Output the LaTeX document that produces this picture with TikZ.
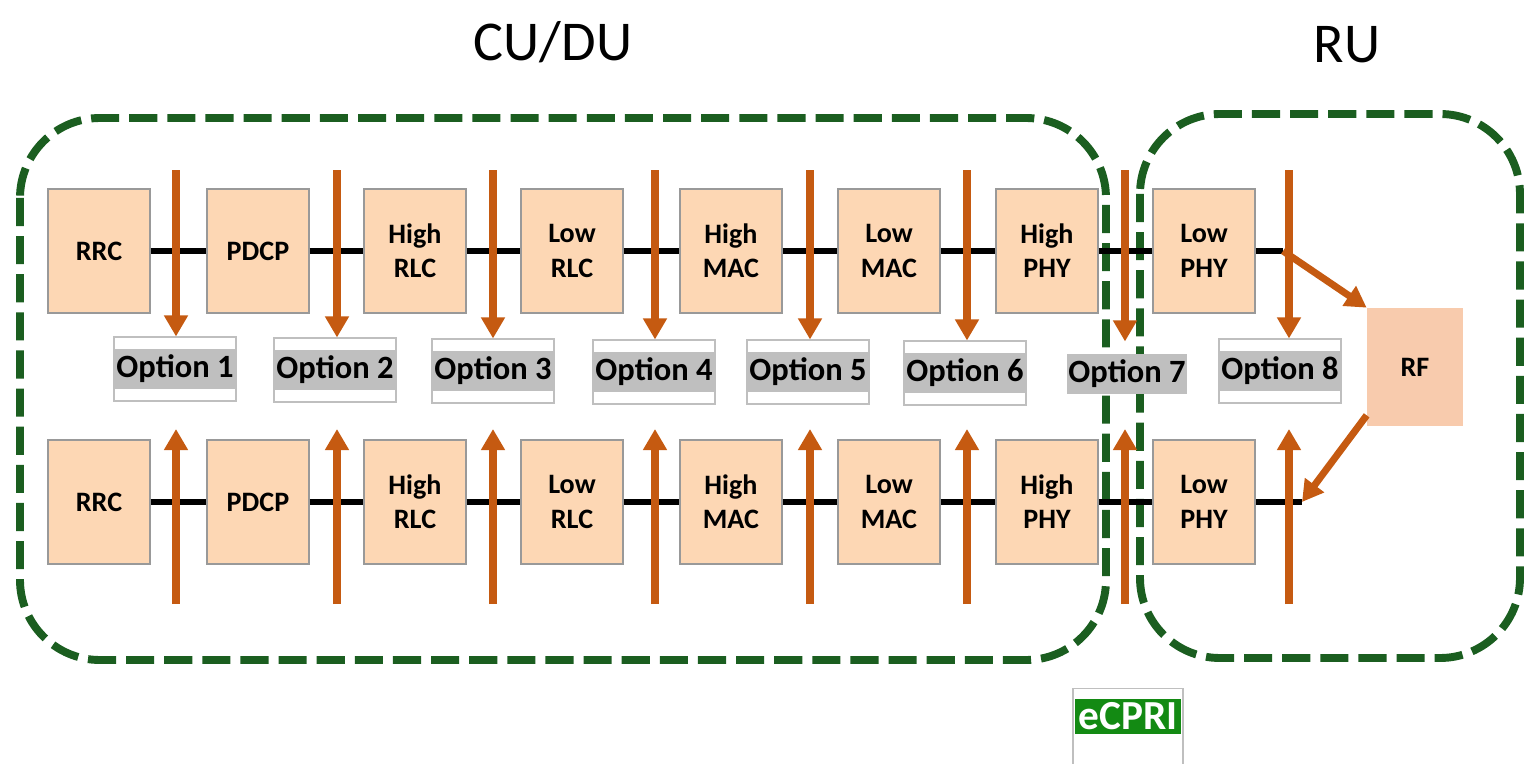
\documentclass[tikz,border=0pt]{standalone}
\usepackage{fontspec}
\setmainfont{Carlito}
\usepackage{xcolor}
\usetikzlibrary{arrows.meta}
\definecolor{blockfill}{HTML}{FDD7B4}
\definecolor{rffill}{HTML}{F8CBAD}
\definecolor{splitorange}{HTML}{C55A11}
\definecolor{zonegreen}{HTML}{1B5E20}
\definecolor{optgray}{HTML}{BFBFBF}
\definecolor{ecprigreen}{HTML}{138A13}
\tikzset{
  layer/.style={draw=black!40, line width=0.6pt, fill=blockfill, minimum width=2.04cm, minimum height=2.48cm, align=center, inner sep=0pt, font=\fontsize{16}{19.5}\selectfont\bfseries},
  rfbox/.style={fill=rffill, minimum width=1.92cm, minimum height=2.36cm, inner sep=0pt, font=\fontsize{16}{19.5}\selectfont\bfseries},
  bus/.style={line width=3.2pt, black},
  split/.style={line width=4pt, splitorange, -{Triangle[width=13pt, length=12pt]}},
  optframe/.style={draw=black!25, line width=0.6pt, fill=white, minimum width=2.44cm, minimum height=1.28cm, inner sep=0pt},
  optlabel/.style={fill=optgray, minimum width=2.4cm, minimum height=0.82cm, inner sep=0pt, font=\fontsize{18.5}{20}\selectfont\bfseries},
  unitzone/.style={zonegreen, line width=4.5pt, dash pattern=on 16pt off 5.7pt, rounded corners=1.6cm},
  title/.style={font=\fontsize{32}{36}\selectfont}
}
\begin{document}
\begin{tikzpicture}[x=0.02cm, y=-0.02cm]
\useasboundingbox (0,0) rectangle (1526,764);
\draw[unitzone] (20,118) rectangle (1106,660);
\draw[unitzone] (1140,114) rectangle (1520,658);
\node[title] (cudu) at (553,42) {CU/DU};
\node[title] (ru) at (1347,45) {RU};
\foreach \n/\x/\txt in {1/99/RRC, 2/258/PDCP, 3/415/High\\RLC, 4/572/Low\\RLC, 5/731/High\\MAC, 6/889/Low\\MAC, 7/1047/High\\PHY, 8/1204/Low\\PHY} {
  \node[layer] (t\n) at (\x,251) {\txt};
  \node[layer] (b\n) at (\x,502) {\txt};
}
\foreach \a/\b in {1/2, 2/3, 3/4, 4/5, 5/6, 6/7, 7/8} {
  \draw[bus] (t\a.east) -- (t\b.west);
  \draw[bus] (b\a.east) -- (b\b.west);
}
\coordinate (tend) at (1283,251);
\coordinate (bend) at (1302,502);
\draw[bus] (t8.east) -- (tend);
\draw[bus] (b8.east) -- (bend);
\node[rfbox] (rf) at (1415,367) {RF};
\draw[split] (tend) -- (rf.north west);
\draw[split] ([yshift=0.22cm]rf.south west) -- (bend);
\foreach \n/\x/\y in {1/175/369, 2/335/370, 3/493/371, 4/654/372, 5/808/372, 6/965/373, 8/1280/371}
  \node[optframe] (f\n) at (\x,\y) {};
\node[optframe, draw=none, fill=none] (f7) at (1127,374) {};
\foreach \n in {1,...,8}
  \node[optlabel] (o\n) at (f\n) {Option \n};
\foreach \n/\x in {1/176, 2/337, 3/493, 4/655, 5/810, 6/967, 7/1125, 8/1289} {
  \coordinate (dn\n) at (\x,170);
  \draw[split] (dn\n) -- (dn\n |- f\n.north);
  \coordinate (up\n) at (\x,604);
  \coordinate (uptip\n) at (\x,429);
  \draw[split] (up\n) -- (uptip\n);
}
\node[draw=black!25, line width=0.6pt, fill=white, minimum width=2.2cm, minimum height=1.8cm, anchor=north] (ecframe) at (1128,688) {};
\node[fill=ecprigreen, text=white, minimum width=2.14cm, minimum height=0.7cm, inner sep=0pt, font=\fontsize{23.5}{26}\selectfont\bfseries] (ecpri) at (1128,716) {eCPRI};
\end{tikzpicture}
\end{document}
